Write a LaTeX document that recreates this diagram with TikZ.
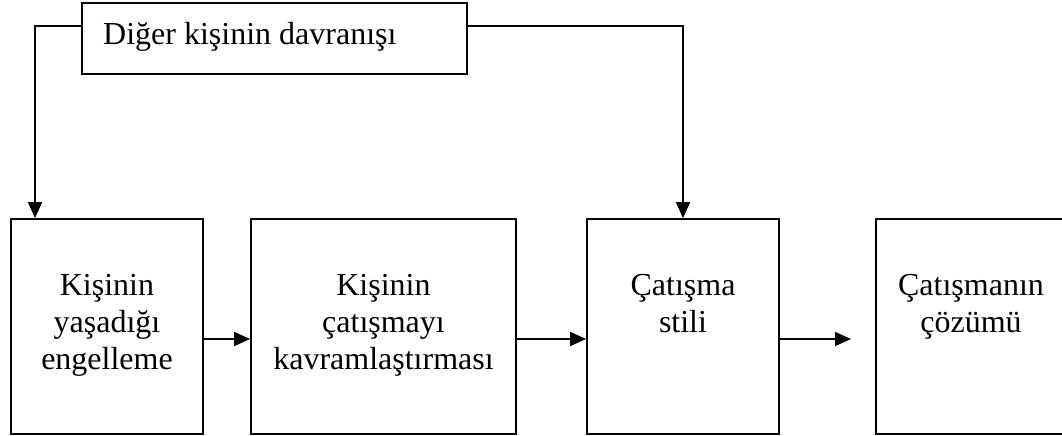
\documentclass[tikz,border=0pt]{standalone}
\usepackage{fontspec}
\setmainfont{Liberation Serif}
\usetikzlibrary{arrows.meta}
\begin{document}
\begin{tikzpicture}[x=1pt,y=-1pt,
  box/.style={draw=black,line width=1.8pt,rectangle,inner sep=0pt},
  lbl/.style={inner sep=0pt,align=center,font=\fontsize{32}{37}\selectfont},
  conn/.style={line width=1.6pt,-{Triangle[length=16pt,width=14pt]}},
  plain/.style={line width=1.6pt}]
\useasboundingbox (0,0) rectangle (1062,436);
\clip (0,0) rectangle (1062,436);
% top box
\node[box,minimum width=385pt,minimum height=71pt] (top) at (274.5,38.5) {};
\node[anchor=base west,inner sep=0pt,font=\fontsize{32}{37}\selectfont] (toptxt) at (103,45) {Diğer kişinin davranışı};
% bottom boxes
\node[box,minimum width=192pt,minimum height=215pt] (b1) at (107,326.5) {};
\node[box,minimum width=265pt,minimum height=215pt] (b2) at (383.5,326.5) {};
\node[box,minimum width=192pt,minimum height=215pt] (b3) at (683,326.5) {};
\node[box,minimum width=200pt,minimum height=215pt] (b4) at (976,326.5) {};
\node[lbl,anchor=north] (t1) at (107,274) {Kişinin\\yaşadığı\\engelleme};
\node[lbl,anchor=north] (t2) at (383.5,274) {Kişinin\\çatışmayı\\kavramlaştırması};
\node[lbl,anchor=north] (t3) at (683,274) {Çatışma\\stili};
\node[lbl,anchor=north] (t4) at (971,274) {Çatışmanın\\çözümü};
% connectors
\coordinate (lc) at (35,26);
\coordinate (rc) at (683,26);
\coordinate (e3) at (851,339);
\draw[conn] (top.west |- lc) -- (lc) -- (b1.north -| lc);
\draw[conn] (top.east |- rc) -- (rc) -- (b3.north);
\draw[conn] (b1.east |- 0,339) -- (b2.west |- 0,339);
\draw[conn] (b2.east |- 0,339) -- (b3.west |- 0,339);
\draw[conn] (b3.east |- e3) -- (e3);
\end{tikzpicture}
\end{document}
